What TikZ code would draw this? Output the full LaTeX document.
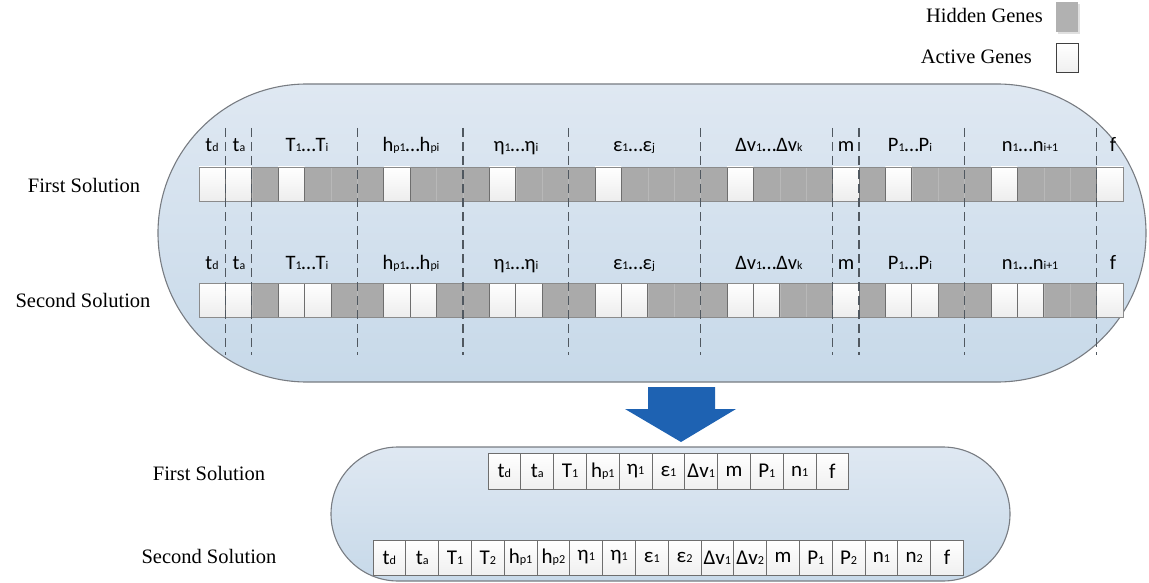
\documentclass[tikz,border=0pt]{standalone}
\usepackage{fontspec}
\setmainfont{Liberation Serif}
\newfontfamily\calfont{Carlito}
\makeatletter
\newdimen\losz
\newcommand\lo[1]{{\losz=\f@size pt\relax\losz=0.58\losz\fontsize{\strip@pt\losz}{\strip@pt\losz}\selectfont #1}}
\makeatother
\definecolor{hidgray}{RGB}{170,170,170}
\definecolor{sepgray}{RGB}{184,184,184}
\definecolor{edgegray}{RGB}{110,110,110}
\definecolor{shapeedge}{RGB}{120,124,130}
\definecolor{bluetop}{RGB}{223,232,242}
\definecolor{bluebot}{RGB}{199,217,233}
\definecolor{arrowblue}{RGB}{30,98,178}
\definecolor{dashcol}{RGB}{80,88,96}
\begin{document}
\begin{tikzpicture}[x=1pt,y=-1pt,
  stad/.style={draw=shapeedge, line width=1.1pt, top color=bluetop, bottom color=bluebot},
  actcell/.style={draw=edgegray, line width=0.8pt, top color=white, bottom color=black!7, minimum width=26.4pt, minimum height=34pt, inner sep=0pt, outer sep=0pt, anchor=north west},
  botcell/.style={draw=edgegray, line width=0.8pt, top color=white, bottom color=black!6, minimum width=32.8pt, inner sep=0pt, outer sep=0pt, anchor=north west, font=\calfont\fontsize{21}{21}\selectfont},
  lbl/.style={font=\calfont\fontsize{20.5}{20.5}\selectfont, inner sep=0pt, anchor=base},
  sol/.style={font=\rmfamily\fontsize{20.5}{20.5}\selectfont, inner sep=0pt},
  dashln/.style={draw=dashcol, line width=1.2pt, dash pattern=on 9pt off 5pt},
  sepln/.style={draw=sepgray, line width=0.6pt},
]
\useasboundingbox (0,0) rectangle (1149,583);

% big stadium
\path[stad, rounded corners=149pt] (158,84) rectangle (1146,382);
% small stadium
\path[stad, rounded corners=67pt] (331,447) rectangle (1010,581);

% legend
\node[sol, anchor=east] (lh) at (1043,15) {Hidden Genes};
\node[sol, anchor=east] (la) at (1032,57) {Active Genes};
\fill[black!12] (1058,4) rectangle (1080,34);
\node[fill=hidgray!92, minimum width=22pt, minimum height=30pt, inner sep=0pt, anchor=north west] (bh) at (1056,2) {};
\node[draw=black!75, line width=0.8pt, top color=white, bottom color=black!6, minimum width=22pt, minimum height=29pt, inner sep=0pt, anchor=north west] (ba) at (1056,43) {};

% left labels
\node[sol] (fs1) at (84,185) {First Solution};
\node[sol] (ss1) at (83,300) {Second Solution};
\node[sol] (fs2) at (209,473) {First Solution};
\node[sol] (ss2) at (209,556) {Second Solution};

% bars
\foreach \r/\yy in {1/167,2/283}{
  \fill[hidgray] (199,\yy) rectangle (1123,\yy+34);
  \foreach \i in {1,...,34} \draw[sepln] ({199+\i*26.4},\yy) -- ++(0,34);
}
\foreach \i in {0,1,3,7,11,15,20,24,26,30,34}
  \node[actcell] (a\i) at ({199+\i*26.4},167) {};
\foreach \i in {0,1,3,4,7,8,11,12,15,16,20,21,24,26,27,30,31,34}
  \node[actcell] (b\i) at ({199+\i*26.4},283) {};
\draw[edgegray!80, line width=0.8pt] (199,167) rectangle (1123,201);
\draw[edgegray!80, line width=0.8pt] (199,283) rectangle (1123,317);

% dashed separators
\foreach \i in {1,2,6,10,14,19,24,25,29,34}
  \draw[dashln] ({199+\i*26.4},128) -- ({199+\i*26.4},355);

% segment labels
\foreach \r/\yy in {1/152,2/269}{
  \node[lbl] (td\r) at (212,\yy) {t\lo{d}};
  \node[lbl] (ta\r) at (239,\yy) {t\lo{a}};
  \node[lbl] (T\r) at (307,\yy) {T\lo{1}…T\lo{i}};
  \node[lbl] (h\r) at (411,\yy) {h\lo{p1}…h\lo{pi}};
  \node[lbl] (eta\r) at (516,\yy) {η\lo{1}…η\lo{i}};
  \node[lbl] (eps\r) at (634,\yy) {ε\lo{1}…ε\lo{j}};
  \node[lbl] (dv\r) at (769,\yy) {Δv\lo{1}…Δv\lo{k}};
  \node[lbl] (m\r) at (846,\yy) {m};
  \node[lbl] (P\r) at (910,\yy) {P\lo{1}…P\lo{i}};
  \node[lbl] (n\r) at (1030,\yy) {n\lo{1}…n\lo{i+1}};
  \node[lbl] (f\r) at (1113,\yy) {f};
}

% arrow
\fill[arrowblue] (648,387) -- (715,387) -- (715,409) -- (736,409) -- (681,442) -- (625,409) -- (648,409) -- cycle;

% bottom cells, first solution
\foreach [count=\k from 0] \t in {t\lo{d},t\lo{a},T\lo{1},h\lo{p1},η\lo{1},ε\lo{1},Δv\lo{1},m,P\lo{1},n\lo{1},f}
  \node[botcell, minimum height=36pt] (c\k) at ({488+\k*32.8},453) {\t};
% bottom cells, second solution
\foreach [count=\k from 0] \t in {t\lo{d},t\lo{a},T\lo{1},T\lo{2},h\lo{p1},h\lo{p2},η\lo{1},η\lo{1},ε\lo{1},ε\lo{2},Δv\lo{1},Δv\lo{2},m,P\lo{1},P\lo{2},n\lo{1},n\lo{2},f}
  \node[botcell, minimum height=35pt] (d\k) at ({373+\k*32.8},540) {\t};
\end{tikzpicture}
\end{document}
